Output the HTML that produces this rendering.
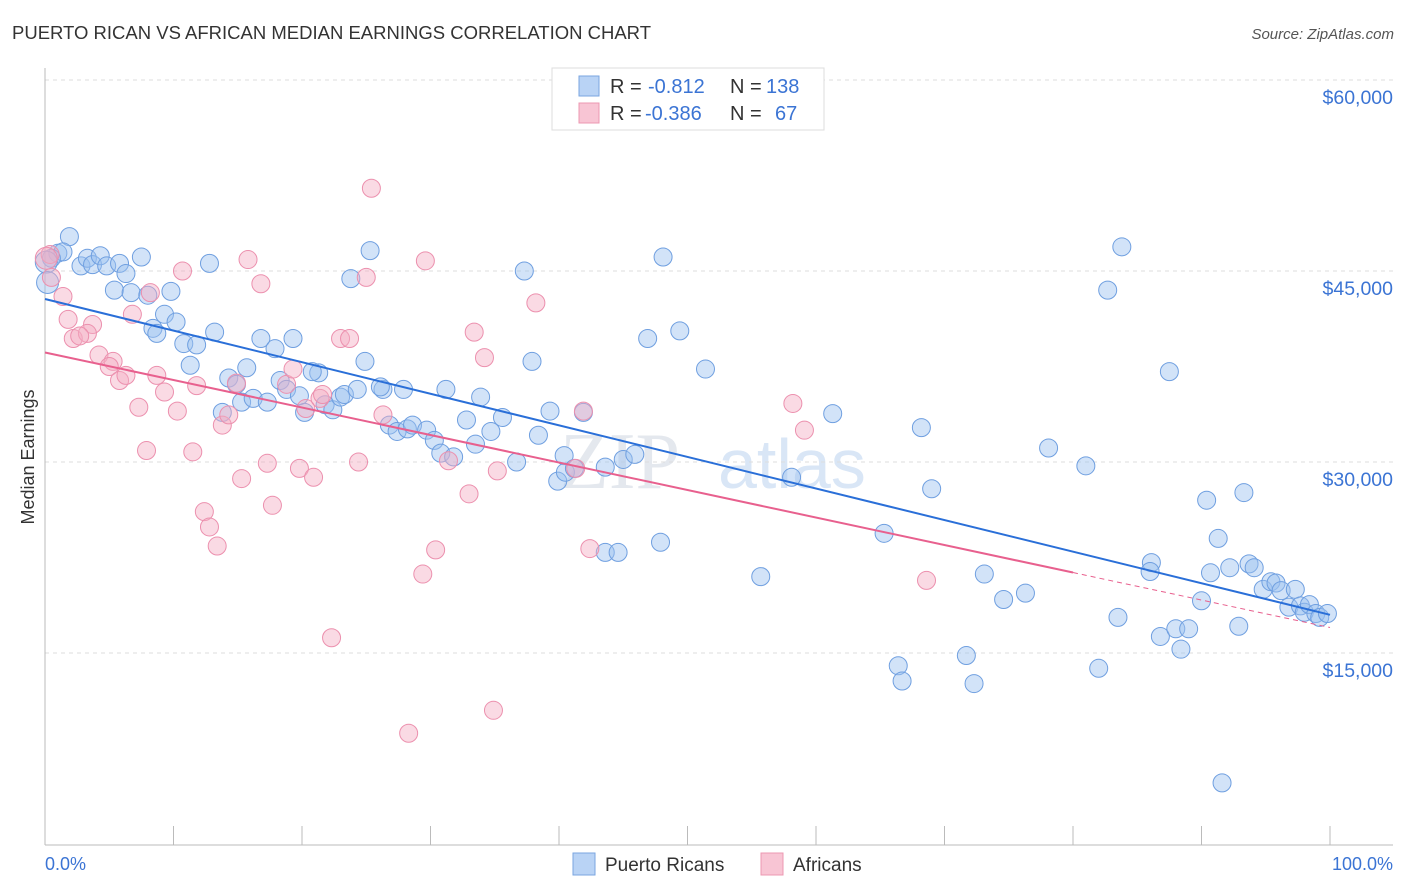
<!DOCTYPE html>
<html><head><meta charset="utf-8"><style>
body{margin:0;background:#fff;font-family:"Liberation Sans",sans-serif;}
svg{display:block}
</style></head><body>
<svg id="chart" width="1406" height="892">
<text x="12" y="39" font-size="18" fill="#333" textLength="639" lengthAdjust="spacingAndGlyphs">PUERTO RICAN VS AFRICAN MEDIAN EARNINGS CORRELATION CHART</text>
<text x="1394" y="39" font-size="15" fill="#555" font-style="italic" text-anchor="end">Source: ZipAtlas.com</text>
<text transform="translate(34,457) rotate(-90)" font-size="18" fill="#333" text-anchor="middle">Median Earnings</text>
<text x="560" y="488" font-size="80" fill="#e4e8ee" font-family="Liberation Serif,serif">ZIP</text>
<text x="718" y="488" font-size="70" fill="#d9e6f6">atlas</text>
<g id="grid"></g><g id="axes"></g><g id="pts"></g><g id="lines"></g>
<g>
<rect x="552" y="68" width="272" height="62" fill="#fff" stroke="#ddd"/>
<rect x="579" y="76" width="20" height="20" fill="#b9d3f5" stroke="#7aa6e0"/>
<rect x="579" y="103" width="20" height="20" fill="#f8c5d4" stroke="#ec98b2"/>
<text x="610" y="93" font-size="20" fill="#333">R = <tspan x="648" fill="#3b74d4">-0.812</tspan><tspan x="730">N = </tspan><tspan x="766" fill="#3b74d4">138</tspan></text>
<text x="610" y="120" font-size="20" fill="#333">R = <tspan x="645" fill="#3b74d4">-0.386</tspan><tspan x="730">N = </tspan><tspan fill="#3b74d4" x="775">67</tspan></text>
</g>
<g>
<rect x="573" y="853" width="22" height="22" fill="#b9d3f5" stroke="#7aa6e0"/>
<text x="605" y="871" font-size="19" fill="#333">Puerto Ricans</text>
<rect x="761" y="853" width="22" height="22" fill="#f8c5d4" stroke="#ec98b2"/>
<text x="793" y="871" font-size="19" fill="#333">Africans</text>
</g>
<text x="45" y="870" font-size="18" fill="#3b74d4">0.0%</text>
<text x="1393" y="870" font-size="18" fill="#3b74d4" text-anchor="end">100.0%</text>
</svg>
<script>
const yTicks=[15000,30000,45000,60000];
const yTickLabels=["$15,000","$30,000","$45,000","$60,000"];
const blueX=[1.9,1.0,1.4,0.5,2.8,3.3,3.7,4.3,4.8,5.8,6.3,7.5,5.4,6.7,8.0,9.8,12.8,9.3,8.4,8.7,10.2,10.8,11.8,11.3,13.2,15.7,16.8,19.3,17.9,14.3,14.9,13.8,15.3,16.2,17.3,18.3,18.8,19.8,21.3,20.8,20.2,21.8,22.4,23.0,23.3,24.3,24.9,26.3,26.1,27.9,25.3,23.8,26.8,27.4,28.2,28.6,29.7,30.3,30.8,31.8,31.2,32.8,33.5,33.9,34.7,35.6,36.7,38.4,39.3,39.9,40.4,40.5,41.2,41.9,43.6,45.0,45.9,37.3,37.9,46.9,49.4,48.1,51.4,43.6,44.6,47.9,55.7,58.1,61.3,65.3,66.4,66.7,68.2,69.0,71.7,72.3,73.1,74.6,76.3,78.1,81.0,82.7,83.8,82.0,83.5,86.1,86.0,86.8,87.5,88.0,88.4,89.0,90.0,90.4,90.7,91.3,92.2,92.9,93.3,93.7,94.1,94.8,95.4,95.8,96.2,96.8,97.3,97.7,98.0,98.4,98.9,99.2,99.8,91.6,0.1,0.2];
const blueY=[47.7,46.4,46.5,46.0,45.4,46.0,45.5,46.2,45.4,45.6,44.8,46.1,43.5,43.3,43.1,43.4,45.6,41.6,40.5,40.1,41.0,39.3,39.2,37.6,40.2,37.4,39.7,39.7,38.9,36.6,36.1,33.9,34.7,35.0,34.7,36.4,35.7,35.2,37.0,37.1,33.9,34.5,34.1,35.1,35.3,35.7,37.9,35.7,35.9,35.7,46.6,44.4,32.9,32.4,32.6,32.9,32.5,31.7,30.7,30.4,35.7,33.3,31.4,35.1,32.4,33.5,30.0,32.1,34.0,28.5,30.5,29.2,29.5,33.9,29.6,30.2,30.6,45.0,37.9,39.7,40.3,46.1,37.3,22.9,22.9,23.7,21.0,28.8,33.8,24.4,14.0,12.8,32.7,27.9,14.8,12.6,21.2,19.2,19.7,31.1,29.7,43.5,46.9,13.8,17.8,22.1,21.4,16.3,37.1,16.9,15.3,16.9,19.1,27.0,21.3,24.0,21.7,17.1,27.6,22.0,21.7,20.0,20.6,20.5,19.9,18.6,20.0,18.7,18.2,18.8,18.1,17.8,18.1,4.8,45.7,44.1];
const pinkX=[0.4,0.5,1.4,1.8,2.2,3.7,3.3,2.7,4.2,5.3,5.0,5.8,6.3,7.3,6.8,7.9,8.2,8.7,9.3,10.3,10.7,11.5,11.8,12.4,12.8,13.4,13.8,14.3,14.9,15.3,15.8,16.8,17.3,17.7,18.8,19.3,19.8,20.3,20.9,21.4,21.6,22.3,23.0,23.7,24.4,25.0,25.4,26.3,28.3,29.4,29.6,30.4,31.4,33.0,33.4,34.2,34.9,35.2,38.2,41.3,42.4,41.9,58.2,59.1,68.6,0.1];
const pinkY=[46.3,44.5,43.0,41.2,39.7,40.8,40.1,39.9,38.4,37.9,37.5,36.4,36.8,34.3,41.6,30.9,43.3,36.8,35.5,34.0,45.0,30.8,36.0,26.1,24.9,23.4,32.9,33.7,36.2,28.7,45.9,44.0,29.9,26.6,36.1,37.3,29.5,34.2,28.8,35.0,35.3,16.2,39.7,39.7,30.0,44.5,51.5,33.7,8.7,21.2,45.8,23.1,30.1,27.5,40.2,38.2,10.5,29.3,42.5,29.5,23.2,34.0,34.6,32.5,20.7,46.0];
const blueTrend=[42.8,18.0];
const pinkTrend=[38.6,17.0];
const pinkSolidEnd=80;
const xTicks=[0,10,20,30,40,50,60,70,80,90,100];

const NS="http://www.w3.org/2000/svg";
const X=p=>45+p*12.85;
const Y=k=>844-k*12.733;
function mk(tag,attrs,parent){const e=document.createElementNS(NS,tag);for(const k in attrs)e.setAttribute(k,attrs[k]);parent.appendChild(e);return e;}
const grid=document.getElementById('grid'),axes=document.getElementById('axes'),pts=document.getElementById('pts'),lines=document.getElementById('lines');
yTicks.forEach((v,i)=>{
 const y=Y(v/1000);
 const l=mk('line',{x1:45,x2:1393,y1:y,y2:y,stroke:'#ddd','stroke-dasharray':'4,4'},grid);
 
 
 const t=mk('text',{x:1393,y:y+24,'font-size':19.5,fill:'#3b74d4','text-anchor':'end'},grid);
 t.textContent=yTickLabels[i];
 
 
});
const ax=mk('line',{x1:45,x2:45,y1:68,y2:845,stroke:'#bbb'},axes);


const bx=mk('line',{x1:45,x2:1393,y1:845,y2:845,stroke:'#bbb'},axes);


xTicks.forEach(p=>{
 const t=mk('line',{x1:X(p),x2:X(p),y1:826,y2:845,stroke:'#bbb'},axes);
 
 
});
function dots(xs,ys,fill,stroke,name){
 xs.forEach((x,i)=>{
  const big=x<0.3;
  const c=mk('circle',{cx:X(x),cy:Y(ys[i]),r:big?11:9,fill:fill,'fill-opacity':0.45,stroke:stroke,'stroke-width':1},pts);
  
  
 });
}
dots(blueX,blueY,'#9cc0ef','#6f9fe0','puerto-rican-point');
dots(pinkX,pinkY,'#f5aec4','#ec90ae','african-point');
const bl=mk('line',{x1:X(0),y1:Y(blueTrend[0]),x2:X(100),y2:Y(blueTrend[1]),stroke:'#2a6fd8','stroke-width':2},lines);


const pm=pinkTrend[0]+(pinkTrend[1]-pinkTrend[0])*pinkSolidEnd/100;
const pl=mk('line',{x1:X(0),y1:Y(pinkTrend[0]),x2:X(pinkSolidEnd),y2:Y(pm),stroke:'#e8608e','stroke-width':2},lines);


const pd=mk('line',{x1:X(pinkSolidEnd),y1:Y(pm),x2:X(100),y2:Y(pinkTrend[1]),stroke:'#e8608e','stroke-width':1,'stroke-dasharray':'5,4'},lines);


</script>
</body></html>
